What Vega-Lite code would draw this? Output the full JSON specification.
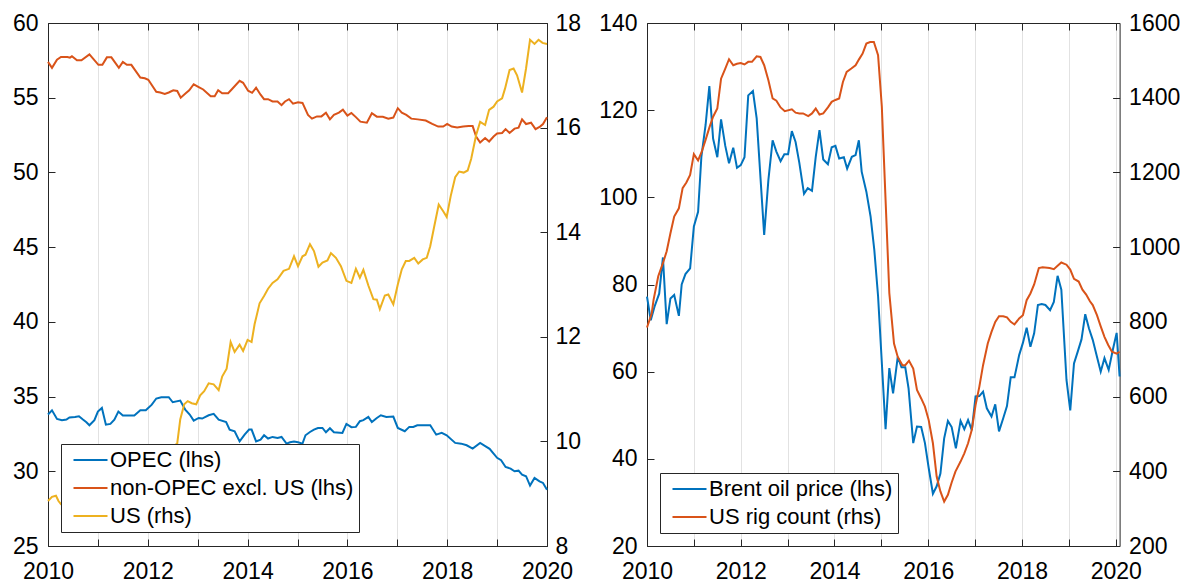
{
  "$schema": "https://vega.github.io/schema/vega-lite/v6.json",
  "padding": {"left": 8, "top": 12, "right": 0, "bottom": 0},
  "spacing": 0,
  "config": {
    "font": "Liberation Sans",
    "view": {"stroke": null},
    "axis": {
      "labelFont": "Liberation Sans",
      "labelFontSize": 23,
      "labelColor": "#000000",
      "domainColor": "#262626",
      "domainWidth": 1,
      "tickColor": "#262626",
      "tickSize": -7,
      "labelPadding": 17,
      "gridColor": "#e2e2e2",
      "gridWidth": 1,
      "title": null
    },
    "legend": {
      "labelFont": "Liberation Sans",
      "labelFontSize": 22,
      "labelColor": "#000000",
      "labelLimit": 400,
      "symbolType": "M-0.7,0H6.1",
      "symbolStrokeWidth": 2,
      "symbolSize": 100,
      "fillColor": "#ffffff",
      "strokeColor": "#262626",
      "padding": 5,
      "rowPadding": 6,
      "labelOffset": 22,
      "title": null
    }
  },
  "datasets": {
    "left": [
      {"s":"non-OPEC excl. US (lhs)","t":2010.00,"v":57.4},
      {"s":"non-OPEC excl. US (lhs)","t":2010.08,"v":57.0},
      {"s":"non-OPEC excl. US (lhs)","t":2010.18,"v":57.55},
      {"s":"non-OPEC excl. US (lhs)","t":2010.26,"v":57.73},
      {"s":"non-OPEC excl. US (lhs)","t":2010.39,"v":57.73},
      {"s":"non-OPEC excl. US (lhs)","t":2010.44,"v":57.68},
      {"s":"non-OPEC excl. US (lhs)","t":2010.48,"v":57.78},
      {"s":"non-OPEC excl. US (lhs)","t":2010.58,"v":57.5},
      {"s":"non-OPEC excl. US (lhs)","t":2010.67,"v":57.5},
      {"s":"non-OPEC excl. US (lhs)","t":2010.83,"v":57.9},
      {"s":"non-OPEC excl. US (lhs)","t":2011.01,"v":57.2},
      {"s":"non-OPEC excl. US (lhs)","t":2011.09,"v":57.2},
      {"s":"non-OPEC excl. US (lhs)","t":2011.18,"v":57.7},
      {"s":"non-OPEC excl. US (lhs)","t":2011.27,"v":57.7},
      {"s":"non-OPEC excl. US (lhs)","t":2011.42,"v":57.0},
      {"s":"non-OPEC excl. US (lhs)","t":2011.50,"v":57.4},
      {"s":"non-OPEC excl. US (lhs)","t":2011.58,"v":57.2},
      {"s":"non-OPEC excl. US (lhs)","t":2011.67,"v":57.2},
      {"s":"non-OPEC excl. US (lhs)","t":2011.85,"v":56.35},
      {"s":"non-OPEC excl. US (lhs)","t":2011.94,"v":56.3},
      {"s":"non-OPEC excl. US (lhs)","t":2012.01,"v":56.2},
      {"s":"non-OPEC excl. US (lhs)","t":2012.17,"v":55.4},
      {"s":"non-OPEC excl. US (lhs)","t":2012.25,"v":55.35},
      {"s":"non-OPEC excl. US (lhs)","t":2012.34,"v":55.25},
      {"s":"non-OPEC excl. US (lhs)","t":2012.42,"v":55.35},
      {"s":"non-OPEC excl. US (lhs)","t":2012.51,"v":55.5},
      {"s":"non-OPEC excl. US (lhs)","t":2012.59,"v":55.45},
      {"s":"non-OPEC excl. US (lhs)","t":2012.66,"v":55.0},
      {"s":"non-OPEC excl. US (lhs)","t":2012.76,"v":55.3},
      {"s":"non-OPEC excl. US (lhs)","t":2012.83,"v":55.5},
      {"s":"non-OPEC excl. US (lhs)","t":2012.92,"v":55.9},
      {"s":"non-OPEC excl. US (lhs)","t":2013.03,"v":55.7},
      {"s":"non-OPEC excl. US (lhs)","t":2013.11,"v":55.55},
      {"s":"non-OPEC excl. US (lhs)","t":2013.26,"v":55.1},
      {"s":"non-OPEC excl. US (lhs)","t":2013.34,"v":55.1},
      {"s":"non-OPEC excl. US (lhs)","t":2013.41,"v":55.5},
      {"s":"non-OPEC excl. US (lhs)","t":2013.49,"v":55.3},
      {"s":"non-OPEC excl. US (lhs)","t":2013.61,"v":55.3},
      {"s":"non-OPEC excl. US (lhs)","t":2013.68,"v":55.55},
      {"s":"non-OPEC excl. US (lhs)","t":2013.84,"v":56.13},
      {"s":"non-OPEC excl. US (lhs)","t":2013.91,"v":56.0},
      {"s":"non-OPEC excl. US (lhs)","t":2014.01,"v":55.47},
      {"s":"non-OPEC excl. US (lhs)","t":2014.09,"v":55.33},
      {"s":"non-OPEC excl. US (lhs)","t":2014.17,"v":55.67},
      {"s":"non-OPEC excl. US (lhs)","t":2014.26,"v":55.2},
      {"s":"non-OPEC excl. US (lhs)","t":2014.33,"v":54.9},
      {"s":"non-OPEC excl. US (lhs)","t":2014.41,"v":54.9},
      {"s":"non-OPEC excl. US (lhs)","t":2014.50,"v":54.75},
      {"s":"non-OPEC excl. US (lhs)","t":2014.60,"v":54.75},
      {"s":"non-OPEC excl. US (lhs)","t":2014.68,"v":54.5},
      {"s":"non-OPEC excl. US (lhs)","t":2014.75,"v":54.75},
      {"s":"non-OPEC excl. US (lhs)","t":2014.83,"v":54.9},
      {"s":"non-OPEC excl. US (lhs)","t":2014.91,"v":54.6},
      {"s":"non-OPEC excl. US (lhs)","t":2015.01,"v":54.7},
      {"s":"non-OPEC excl. US (lhs)","t":2015.10,"v":54.65},
      {"s":"non-OPEC excl. US (lhs)","t":2015.21,"v":53.85},
      {"s":"non-OPEC excl. US (lhs)","t":2015.29,"v":53.6},
      {"s":"non-OPEC excl. US (lhs)","t":2015.39,"v":53.75},
      {"s":"non-OPEC excl. US (lhs)","t":2015.48,"v":53.75},
      {"s":"non-OPEC excl. US (lhs)","t":2015.57,"v":54.0},
      {"s":"non-OPEC excl. US (lhs)","t":2015.65,"v":53.55},
      {"s":"non-OPEC excl. US (lhs)","t":2015.73,"v":53.85},
      {"s":"non-OPEC excl. US (lhs)","t":2015.83,"v":54.0},
      {"s":"non-OPEC excl. US (lhs)","t":2015.91,"v":54.2},
      {"s":"non-OPEC excl. US (lhs)","t":2016.00,"v":53.8},
      {"s":"non-OPEC excl. US (lhs)","t":2016.08,"v":53.98},
      {"s":"non-OPEC excl. US (lhs)","t":2016.17,"v":53.7},
      {"s":"non-OPEC excl. US (lhs)","t":2016.26,"v":53.4},
      {"s":"non-OPEC excl. US (lhs)","t":2016.39,"v":53.33},
      {"s":"non-OPEC excl. US (lhs)","t":2016.49,"v":53.96},
      {"s":"non-OPEC excl. US (lhs)","t":2016.59,"v":53.73},
      {"s":"non-OPEC excl. US (lhs)","t":2016.71,"v":53.73},
      {"s":"non-OPEC excl. US (lhs)","t":2016.82,"v":53.6},
      {"s":"non-OPEC excl. US (lhs)","t":2016.92,"v":53.67},
      {"s":"non-OPEC excl. US (lhs)","t":2017.01,"v":54.3},
      {"s":"non-OPEC excl. US (lhs)","t":2017.09,"v":54.0},
      {"s":"non-OPEC excl. US (lhs)","t":2017.18,"v":53.85},
      {"s":"non-OPEC excl. US (lhs)","t":2017.28,"v":53.6},
      {"s":"non-OPEC excl. US (lhs)","t":2017.41,"v":53.55},
      {"s":"non-OPEC excl. US (lhs)","t":2017.57,"v":53.47},
      {"s":"non-OPEC excl. US (lhs)","t":2017.70,"v":53.25},
      {"s":"non-OPEC excl. US (lhs)","t":2017.82,"v":53.07},
      {"s":"non-OPEC excl. US (lhs)","t":2017.92,"v":53.07},
      {"s":"non-OPEC excl. US (lhs)","t":2018.00,"v":53.25},
      {"s":"non-OPEC excl. US (lhs)","t":2018.09,"v":53.07},
      {"s":"non-OPEC excl. US (lhs)","t":2018.20,"v":53.0},
      {"s":"non-OPEC excl. US (lhs)","t":2018.32,"v":53.07},
      {"s":"non-OPEC excl. US (lhs)","t":2018.43,"v":53.1},
      {"s":"non-OPEC excl. US (lhs)","t":2018.51,"v":53.1},
      {"s":"non-OPEC excl. US (lhs)","t":2018.58,"v":52.4},
      {"s":"non-OPEC excl. US (lhs)","t":2018.66,"v":52.0},
      {"s":"non-OPEC excl. US (lhs)","t":2018.76,"v":52.3},
      {"s":"non-OPEC excl. US (lhs)","t":2018.84,"v":52.07},
      {"s":"non-OPEC excl. US (lhs)","t":2018.93,"v":52.4},
      {"s":"non-OPEC excl. US (lhs)","t":2019.00,"v":52.6},
      {"s":"non-OPEC excl. US (lhs)","t":2019.10,"v":52.64},
      {"s":"non-OPEC excl. US (lhs)","t":2019.17,"v":52.9},
      {"s":"non-OPEC excl. US (lhs)","t":2019.25,"v":52.64},
      {"s":"non-OPEC excl. US (lhs)","t":2019.35,"v":52.93},
      {"s":"non-OPEC excl. US (lhs)","t":2019.43,"v":53.0},
      {"s":"non-OPEC excl. US (lhs)","t":2019.50,"v":53.55},
      {"s":"non-OPEC excl. US (lhs)","t":2019.58,"v":53.24},
      {"s":"non-OPEC excl. US (lhs)","t":2019.68,"v":53.33},
      {"s":"non-OPEC excl. US (lhs)","t":2019.77,"v":52.9},
      {"s":"non-OPEC excl. US (lhs)","t":2019.86,"v":53.07},
      {"s":"non-OPEC excl. US (lhs)","t":2019.92,"v":53.24},
      {"s":"non-OPEC excl. US (lhs)","t":2020.00,"v":53.7},
      {"s":"OPEC (lhs)","t":2010.00,"v":33.8},
      {"s":"OPEC (lhs)","t":2010.08,"v":34.08},
      {"s":"OPEC (lhs)","t":2010.18,"v":33.5},
      {"s":"OPEC (lhs)","t":2010.28,"v":33.42},
      {"s":"OPEC (lhs)","t":2010.37,"v":33.46},
      {"s":"OPEC (lhs)","t":2010.43,"v":33.6},
      {"s":"OPEC (lhs)","t":2010.54,"v":33.64},
      {"s":"OPEC (lhs)","t":2010.62,"v":33.68},
      {"s":"OPEC (lhs)","t":2010.70,"v":33.46},
      {"s":"OPEC (lhs)","t":2010.77,"v":33.28},
      {"s":"OPEC (lhs)","t":2010.83,"v":33.08},
      {"s":"OPEC (lhs)","t":2010.93,"v":33.42},
      {"s":"OPEC (lhs)","t":2011.00,"v":34.0},
      {"s":"OPEC (lhs)","t":2011.08,"v":34.24},
      {"s":"OPEC (lhs)","t":2011.16,"v":33.12},
      {"s":"OPEC (lhs)","t":2011.25,"v":33.17},
      {"s":"OPEC (lhs)","t":2011.33,"v":33.46},
      {"s":"OPEC (lhs)","t":2011.41,"v":34.0},
      {"s":"OPEC (lhs)","t":2011.50,"v":33.73},
      {"s":"OPEC (lhs)","t":2011.73,"v":33.73},
      {"s":"OPEC (lhs)","t":2011.85,"v":34.08},
      {"s":"OPEC (lhs)","t":2011.96,"v":34.08},
      {"s":"OPEC (lhs)","t":2012.08,"v":34.46},
      {"s":"OPEC (lhs)","t":2012.17,"v":34.87},
      {"s":"OPEC (lhs)","t":2012.27,"v":34.96},
      {"s":"OPEC (lhs)","t":2012.42,"v":34.96},
      {"s":"OPEC (lhs)","t":2012.50,"v":34.62},
      {"s":"OPEC (lhs)","t":2012.65,"v":34.73},
      {"s":"OPEC (lhs)","t":2012.75,"v":34.13},
      {"s":"OPEC (lhs)","t":2012.84,"v":33.8},
      {"s":"OPEC (lhs)","t":2012.92,"v":33.39},
      {"s":"OPEC (lhs)","t":2013.02,"v":33.57},
      {"s":"OPEC (lhs)","t":2013.09,"v":33.53},
      {"s":"OPEC (lhs)","t":2013.22,"v":33.75},
      {"s":"OPEC (lhs)","t":2013.32,"v":33.84},
      {"s":"OPEC (lhs)","t":2013.42,"v":33.46},
      {"s":"OPEC (lhs)","t":2013.57,"v":33.3},
      {"s":"OPEC (lhs)","t":2013.64,"v":32.79},
      {"s":"OPEC (lhs)","t":2013.74,"v":32.68},
      {"s":"OPEC (lhs)","t":2013.84,"v":32.0},
      {"s":"OPEC (lhs)","t":2013.94,"v":32.45},
      {"s":"OPEC (lhs)","t":2014.03,"v":32.79},
      {"s":"OPEC (lhs)","t":2014.08,"v":32.79},
      {"s":"OPEC (lhs)","t":2014.17,"v":32.0},
      {"s":"OPEC (lhs)","t":2014.26,"v":32.12},
      {"s":"OPEC (lhs)","t":2014.33,"v":32.41},
      {"s":"OPEC (lhs)","t":2014.41,"v":32.19},
      {"s":"OPEC (lhs)","t":2014.50,"v":32.3},
      {"s":"OPEC (lhs)","t":2014.60,"v":32.23},
      {"s":"OPEC (lhs)","t":2014.68,"v":32.3},
      {"s":"OPEC (lhs)","t":2014.78,"v":31.85},
      {"s":"OPEC (lhs)","t":2014.85,"v":31.94},
      {"s":"OPEC (lhs)","t":2014.93,"v":32.0},
      {"s":"OPEC (lhs)","t":2015.01,"v":31.94},
      {"s":"OPEC (lhs)","t":2015.10,"v":31.85},
      {"s":"OPEC (lhs)","t":2015.16,"v":32.41},
      {"s":"OPEC (lhs)","t":2015.25,"v":32.63},
      {"s":"OPEC (lhs)","t":2015.33,"v":32.79},
      {"s":"OPEC (lhs)","t":2015.41,"v":32.9},
      {"s":"OPEC (lhs)","t":2015.50,"v":32.9},
      {"s":"OPEC (lhs)","t":2015.57,"v":32.61},
      {"s":"OPEC (lhs)","t":2015.65,"v":32.88},
      {"s":"OPEC (lhs)","t":2015.73,"v":32.61},
      {"s":"OPEC (lhs)","t":2015.90,"v":32.57},
      {"s":"OPEC (lhs)","t":2015.98,"v":33.17},
      {"s":"OPEC (lhs)","t":2016.08,"v":32.95},
      {"s":"OPEC (lhs)","t":2016.17,"v":32.97},
      {"s":"OPEC (lhs)","t":2016.25,"v":33.35},
      {"s":"OPEC (lhs)","t":2016.32,"v":33.42},
      {"s":"OPEC (lhs)","t":2016.42,"v":33.64},
      {"s":"OPEC (lhs)","t":2016.49,"v":33.3},
      {"s":"OPEC (lhs)","t":2016.59,"v":33.57},
      {"s":"OPEC (lhs)","t":2016.67,"v":33.75},
      {"s":"OPEC (lhs)","t":2016.78,"v":33.64},
      {"s":"OPEC (lhs)","t":2016.92,"v":33.66},
      {"s":"OPEC (lhs)","t":2017.01,"v":32.9},
      {"s":"OPEC (lhs)","t":2017.15,"v":32.68},
      {"s":"OPEC (lhs)","t":2017.24,"v":32.97},
      {"s":"OPEC (lhs)","t":2017.32,"v":32.97},
      {"s":"OPEC (lhs)","t":2017.40,"v":33.08},
      {"s":"OPEC (lhs)","t":2017.66,"v":33.08},
      {"s":"OPEC (lhs)","t":2017.78,"v":32.45},
      {"s":"OPEC (lhs)","t":2017.89,"v":32.57},
      {"s":"OPEC (lhs)","t":2017.99,"v":32.41},
      {"s":"OPEC (lhs)","t":2018.16,"v":31.9},
      {"s":"OPEC (lhs)","t":2018.28,"v":31.85},
      {"s":"OPEC (lhs)","t":2018.39,"v":31.74},
      {"s":"OPEC (lhs)","t":2018.51,"v":31.52},
      {"s":"OPEC (lhs)","t":2018.66,"v":31.9},
      {"s":"OPEC (lhs)","t":2018.77,"v":31.67},
      {"s":"OPEC (lhs)","t":2018.85,"v":31.5},
      {"s":"OPEC (lhs)","t":2018.93,"v":31.18},
      {"s":"OPEC (lhs)","t":2019.00,"v":30.9},
      {"s":"OPEC (lhs)","t":2019.08,"v":30.74},
      {"s":"OPEC (lhs)","t":2019.17,"v":30.29},
      {"s":"OPEC (lhs)","t":2019.27,"v":30.18},
      {"s":"OPEC (lhs)","t":2019.35,"v":30.0},
      {"s":"OPEC (lhs)","t":2019.43,"v":30.04},
      {"s":"OPEC (lhs)","t":2019.50,"v":29.78},
      {"s":"OPEC (lhs)","t":2019.58,"v":29.67},
      {"s":"OPEC (lhs)","t":2019.66,"v":29.04},
      {"s":"OPEC (lhs)","t":2019.75,"v":29.55},
      {"s":"OPEC (lhs)","t":2019.85,"v":29.33},
      {"s":"OPEC (lhs)","t":2019.92,"v":29.22},
      {"s":"OPEC (lhs)","t":2020.00,"v":28.77},
      {"s":"US (rhs)","t":2010.00,"v":8.86},
      {"s":"US (rhs)","t":2010.08,"v":8.94},
      {"s":"US (rhs)","t":2010.16,"v":8.96},
      {"s":"US (rhs)","t":2010.21,"v":8.86},
      {"s":"US (rhs)","t":2010.26,"v":8.8},
      {"s":"US (rhs)","t":2010.50,"v":8.85},
      {"s":"US (rhs)","t":2010.83,"v":8.95},
      {"s":"US (rhs)","t":2011.17,"v":9.1},
      {"s":"US (rhs)","t":2011.50,"v":9.25},
      {"s":"US (rhs)","t":2011.83,"v":9.45},
      {"s":"US (rhs)","t":2012.17,"v":9.7},
      {"s":"US (rhs)","t":2012.42,"v":9.85},
      {"s":"US (rhs)","t":2012.59,"v":9.96},
      {"s":"US (rhs)","t":2012.65,"v":10.42},
      {"s":"US (rhs)","t":2012.73,"v":10.71},
      {"s":"US (rhs)","t":2012.80,"v":10.77},
      {"s":"US (rhs)","t":2012.88,"v":10.73},
      {"s":"US (rhs)","t":2012.97,"v":10.71},
      {"s":"US (rhs)","t":2013.05,"v":10.88},
      {"s":"US (rhs)","t":2013.13,"v":10.96},
      {"s":"US (rhs)","t":2013.22,"v":11.11},
      {"s":"US (rhs)","t":2013.32,"v":11.09},
      {"s":"US (rhs)","t":2013.42,"v":10.98},
      {"s":"US (rhs)","t":2013.49,"v":11.24},
      {"s":"US (rhs)","t":2013.58,"v":11.39},
      {"s":"US (rhs)","t":2013.66,"v":11.9},
      {"s":"US (rhs)","t":2013.74,"v":11.71},
      {"s":"US (rhs)","t":2013.84,"v":11.85},
      {"s":"US (rhs)","t":2013.91,"v":11.73},
      {"s":"US (rhs)","t":2014.00,"v":11.94},
      {"s":"US (rhs)","t":2014.08,"v":11.9},
      {"s":"US (rhs)","t":2014.14,"v":12.24},
      {"s":"US (rhs)","t":2014.24,"v":12.64},
      {"s":"US (rhs)","t":2014.33,"v":12.78},
      {"s":"US (rhs)","t":2014.41,"v":12.92},
      {"s":"US (rhs)","t":2014.50,"v":13.03},
      {"s":"US (rhs)","t":2014.60,"v":13.1},
      {"s":"US (rhs)","t":2014.72,"v":13.26},
      {"s":"US (rhs)","t":2014.83,"v":13.3},
      {"s":"US (rhs)","t":2014.93,"v":13.54},
      {"s":"US (rhs)","t":2015.01,"v":13.35},
      {"s":"US (rhs)","t":2015.10,"v":13.54},
      {"s":"US (rhs)","t":2015.16,"v":13.57},
      {"s":"US (rhs)","t":2015.25,"v":13.77},
      {"s":"US (rhs)","t":2015.33,"v":13.64},
      {"s":"US (rhs)","t":2015.42,"v":13.34},
      {"s":"US (rhs)","t":2015.50,"v":13.42},
      {"s":"US (rhs)","t":2015.60,"v":13.46},
      {"s":"US (rhs)","t":2015.67,"v":13.6},
      {"s":"US (rhs)","t":2015.77,"v":13.51},
      {"s":"US (rhs)","t":2015.87,"v":13.35},
      {"s":"US (rhs)","t":2015.98,"v":13.07},
      {"s":"US (rhs)","t":2016.08,"v":13.03},
      {"s":"US (rhs)","t":2016.17,"v":13.3},
      {"s":"US (rhs)","t":2016.25,"v":13.13},
      {"s":"US (rhs)","t":2016.32,"v":13.28},
      {"s":"US (rhs)","t":2016.42,"v":12.98},
      {"s":"US (rhs)","t":2016.52,"v":12.72},
      {"s":"US (rhs)","t":2016.59,"v":12.71},
      {"s":"US (rhs)","t":2016.65,"v":12.53},
      {"s":"US (rhs)","t":2016.75,"v":12.79},
      {"s":"US (rhs)","t":2016.82,"v":12.81},
      {"s":"US (rhs)","t":2016.92,"v":12.62},
      {"s":"US (rhs)","t":2017.01,"v":13.0},
      {"s":"US (rhs)","t":2017.09,"v":13.29},
      {"s":"US (rhs)","t":2017.17,"v":13.45},
      {"s":"US (rhs)","t":2017.24,"v":13.45},
      {"s":"US (rhs)","t":2017.34,"v":13.51},
      {"s":"US (rhs)","t":2017.42,"v":13.4},
      {"s":"US (rhs)","t":2017.51,"v":13.48},
      {"s":"US (rhs)","t":2017.59,"v":13.51},
      {"s":"US (rhs)","t":2017.66,"v":13.73},
      {"s":"US (rhs)","t":2017.74,"v":14.11},
      {"s":"US (rhs)","t":2017.83,"v":14.53},
      {"s":"US (rhs)","t":2017.92,"v":14.4},
      {"s":"US (rhs)","t":2017.99,"v":14.29},
      {"s":"US (rhs)","t":2018.07,"v":14.69},
      {"s":"US (rhs)","t":2018.16,"v":15.05},
      {"s":"US (rhs)","t":2018.24,"v":15.16},
      {"s":"US (rhs)","t":2018.33,"v":15.14},
      {"s":"US (rhs)","t":2018.41,"v":15.18},
      {"s":"US (rhs)","t":2018.48,"v":15.4},
      {"s":"US (rhs)","t":2018.58,"v":15.86},
      {"s":"US (rhs)","t":2018.66,"v":16.11},
      {"s":"US (rhs)","t":2018.76,"v":16.05},
      {"s":"US (rhs)","t":2018.84,"v":16.34},
      {"s":"US (rhs)","t":2018.93,"v":16.4},
      {"s":"US (rhs)","t":2019.00,"v":16.5},
      {"s":"US (rhs)","t":2019.10,"v":16.56},
      {"s":"US (rhs)","t":2019.16,"v":16.75},
      {"s":"US (rhs)","t":2019.25,"v":17.1},
      {"s":"US (rhs)","t":2019.33,"v":17.13},
      {"s":"US (rhs)","t":2019.40,"v":17.0},
      {"s":"US (rhs)","t":2019.50,"v":16.67},
      {"s":"US (rhs)","t":2019.58,"v":17.13},
      {"s":"US (rhs)","t":2019.66,"v":17.68},
      {"s":"US (rhs)","t":2019.75,"v":17.6},
      {"s":"US (rhs)","t":2019.83,"v":17.68},
      {"s":"US (rhs)","t":2019.91,"v":17.62},
      {"s":"US (rhs)","t":2020.00,"v":17.6}
    ],
    "right": [
      {"s":"Brent oil price (lhs)","t":2010.00,"v":77.2},
      {"s":"Brent oil price (lhs)","t":2010.08,"v":71.8},
      {"s":"Brent oil price (lhs)","t":2010.16,"v":74.9},
      {"s":"Brent oil price (lhs)","t":2010.26,"v":77.9},
      {"s":"Brent oil price (lhs)","t":2010.34,"v":86.2},
      {"s":"Brent oil price (lhs)","t":2010.42,"v":70.9},
      {"s":"Brent oil price (lhs)","t":2010.50,"v":76.8},
      {"s":"Brent oil price (lhs)","t":2010.58,"v":77.6},
      {"s":"Brent oil price (lhs)","t":2010.68,"v":72.8},
      {"s":"Brent oil price (lhs)","t":2010.74,"v":80.0},
      {"s":"Brent oil price (lhs)","t":2010.82,"v":82.4},
      {"s":"Brent oil price (lhs)","t":2010.92,"v":83.7},
      {"s":"Brent oil price (lhs)","t":2011.00,"v":93.3},
      {"s":"Brent oil price (lhs)","t":2011.09,"v":96.7},
      {"s":"Brent oil price (lhs)","t":2011.16,"v":109.3},
      {"s":"Brent oil price (lhs)","t":2011.25,"v":116.6},
      {"s":"Brent oil price (lhs)","t":2011.33,"v":125.5},
      {"s":"Brent oil price (lhs)","t":2011.41,"v":113.5},
      {"s":"Brent oil price (lhs)","t":2011.50,"v":109.2},
      {"s":"Brent oil price (lhs)","t":2011.58,"v":117.9},
      {"s":"Brent oil price (lhs)","t":2011.67,"v":111.8},
      {"s":"Brent oil price (lhs)","t":2011.75,"v":107.8},
      {"s":"Brent oil price (lhs)","t":2011.84,"v":111.4},
      {"s":"Brent oil price (lhs)","t":2011.92,"v":106.8},
      {"s":"Brent oil price (lhs)","t":2012.00,"v":107.4},
      {"s":"Brent oil price (lhs)","t":2012.08,"v":109.2},
      {"s":"Brent oil price (lhs)","t":2012.16,"v":123.4},
      {"s":"Brent oil price (lhs)","t":2012.26,"v":124.4},
      {"s":"Brent oil price (lhs)","t":2012.34,"v":118.1},
      {"s":"Brent oil price (lhs)","t":2012.42,"v":104.7},
      {"s":"Brent oil price (lhs)","t":2012.50,"v":91.4},
      {"s":"Brent oil price (lhs)","t":2012.59,"v":104.0},
      {"s":"Brent oil price (lhs)","t":2012.68,"v":113.1},
      {"s":"Brent oil price (lhs)","t":2012.76,"v":110.5},
      {"s":"Brent oil price (lhs)","t":2012.85,"v":108.3},
      {"s":"Brent oil price (lhs)","t":2012.93,"v":109.9},
      {"s":"Brent oil price (lhs)","t":2013.01,"v":109.9},
      {"s":"Brent oil price (lhs)","t":2013.09,"v":115.2},
      {"s":"Brent oil price (lhs)","t":2013.17,"v":112.7},
      {"s":"Brent oil price (lhs)","t":2013.25,"v":107.9},
      {"s":"Brent oil price (lhs)","t":2013.35,"v":100.8},
      {"s":"Brent oil price (lhs)","t":2013.43,"v":102.1},
      {"s":"Brent oil price (lhs)","t":2013.52,"v":101.5},
      {"s":"Brent oil price (lhs)","t":2013.60,"v":109.3},
      {"s":"Brent oil price (lhs)","t":2013.68,"v":115.4},
      {"s":"Brent oil price (lhs)","t":2013.76,"v":108.7},
      {"s":"Brent oil price (lhs)","t":2013.86,"v":107.6},
      {"s":"Brent oil price (lhs)","t":2013.94,"v":111.5},
      {"s":"Brent oil price (lhs)","t":2014.02,"v":111.8},
      {"s":"Brent oil price (lhs)","t":2014.10,"v":108.9},
      {"s":"Brent oil price (lhs)","t":2014.20,"v":109.2},
      {"s":"Brent oil price (lhs)","t":2014.27,"v":106.6},
      {"s":"Brent oil price (lhs)","t":2014.37,"v":109.3},
      {"s":"Brent oil price (lhs)","t":2014.45,"v":109.7},
      {"s":"Brent oil price (lhs)","t":2014.52,"v":113.1},
      {"s":"Brent oil price (lhs)","t":2014.58,"v":105.9},
      {"s":"Brent oil price (lhs)","t":2014.68,"v":101.3},
      {"s":"Brent oil price (lhs)","t":2014.77,"v":95.6},
      {"s":"Brent oil price (lhs)","t":2014.85,"v":87.9},
      {"s":"Brent oil price (lhs)","t":2014.93,"v":77.3},
      {"s":"Brent oil price (lhs)","t":2015.09,"v":46.8},
      {"s":"Brent oil price (lhs)","t":2015.17,"v":60.8},
      {"s":"Brent oil price (lhs)","t":2015.25,"v":55.0},
      {"s":"Brent oil price (lhs)","t":2015.35,"v":63.4},
      {"s":"Brent oil price (lhs)","t":2015.43,"v":61.0},
      {"s":"Brent oil price (lhs)","t":2015.51,"v":61.0},
      {"s":"Brent oil price (lhs)","t":2015.58,"v":56.2},
      {"s":"Brent oil price (lhs)","t":2015.68,"v":43.6},
      {"s":"Brent oil price (lhs)","t":2015.76,"v":47.4},
      {"s":"Brent oil price (lhs)","t":2015.85,"v":47.3},
      {"s":"Brent oil price (lhs)","t":2015.93,"v":43.6},
      {"s":"Brent oil price (lhs)","t":2016.01,"v":37.9},
      {"s":"Brent oil price (lhs)","t":2016.10,"v":32.0},
      {"s":"Brent oil price (lhs)","t":2016.18,"v":33.7},
      {"s":"Brent oil price (lhs)","t":2016.26,"v":36.6},
      {"s":"Brent oil price (lhs)","t":2016.34,"v":44.7},
      {"s":"Brent oil price (lhs)","t":2016.42,"v":48.7},
      {"s":"Brent oil price (lhs)","t":2016.50,"v":47.3},
      {"s":"Brent oil price (lhs)","t":2016.59,"v":42.4},
      {"s":"Brent oil price (lhs)","t":2016.69,"v":48.7},
      {"s":"Brent oil price (lhs)","t":2016.77,"v":46.8},
      {"s":"Brent oil price (lhs)","t":2016.85,"v":48.9},
      {"s":"Brent oil price (lhs)","t":2016.93,"v":46.6},
      {"s":"Brent oil price (lhs)","t":2017.01,"v":54.3},
      {"s":"Brent oil price (lhs)","t":2017.09,"v":54.4},
      {"s":"Brent oil price (lhs)","t":2017.17,"v":55.4},
      {"s":"Brent oil price (lhs)","t":2017.25,"v":51.6},
      {"s":"Brent oil price (lhs)","t":2017.35,"v":49.7},
      {"s":"Brent oil price (lhs)","t":2017.43,"v":52.5},
      {"s":"Brent oil price (lhs)","t":2017.51,"v":46.3},
      {"s":"Brent oil price (lhs)","t":2017.60,"v":49.3},
      {"s":"Brent oil price (lhs)","t":2017.68,"v":52.1},
      {"s":"Brent oil price (lhs)","t":2017.76,"v":58.7},
      {"s":"Brent oil price (lhs)","t":2017.84,"v":58.7},
      {"s":"Brent oil price (lhs)","t":2017.94,"v":63.8},
      {"s":"Brent oil price (lhs)","t":2018.02,"v":66.6},
      {"s":"Brent oil price (lhs)","t":2018.10,"v":70.1},
      {"s":"Brent oil price (lhs)","t":2018.18,"v":65.7},
      {"s":"Brent oil price (lhs)","t":2018.26,"v":68.8},
      {"s":"Brent oil price (lhs)","t":2018.34,"v":75.3},
      {"s":"Brent oil price (lhs)","t":2018.42,"v":75.5},
      {"s":"Brent oil price (lhs)","t":2018.50,"v":75.3},
      {"s":"Brent oil price (lhs)","t":2018.60,"v":74.1},
      {"s":"Brent oil price (lhs)","t":2018.68,"v":76.0},
      {"s":"Brent oil price (lhs)","t":2018.76,"v":82.0},
      {"s":"Brent oil price (lhs)","t":2018.84,"v":78.8},
      {"s":"Brent oil price (lhs)","t":2018.95,"v":58.1},
      {"s":"Brent oil price (lhs)","t":2019.03,"v":51.1},
      {"s":"Brent oil price (lhs)","t":2019.11,"v":61.9},
      {"s":"Brent oil price (lhs)","t":2019.19,"v":64.6},
      {"s":"Brent oil price (lhs)","t":2019.27,"v":67.4},
      {"s":"Brent oil price (lhs)","t":2019.35,"v":73.2},
      {"s":"Brent oil price (lhs)","t":2019.43,"v":69.9},
      {"s":"Brent oil price (lhs)","t":2019.51,"v":67.3},
      {"s":"Brent oil price (lhs)","t":2019.60,"v":63.4},
      {"s":"Brent oil price (lhs)","t":2019.68,"v":60.0},
      {"s":"Brent oil price (lhs)","t":2019.76,"v":63.1},
      {"s":"Brent oil price (lhs)","t":2019.85,"v":60.4},
      {"s":"Brent oil price (lhs)","t":2019.94,"v":65.1},
      {"s":"Brent oil price (lhs)","t":2020.02,"v":68.9},
      {"s":"Brent oil price (lhs)","t":2020.083,"v":58.9},
      {"s":"US rig count (rhs)","t":2010.00,"v":785},
      {"s":"US rig count (rhs)","t":2010.10,"v":822},
      {"s":"US rig count (rhs)","t":2010.14,"v":859},
      {"s":"US rig count (rhs)","t":2010.24,"v":922},
      {"s":"US rig count (rhs)","t":2010.34,"v":957},
      {"s":"US rig count (rhs)","t":2010.42,"v":989},
      {"s":"US rig count (rhs)","t":2010.50,"v":1037},
      {"s":"US rig count (rhs)","t":2010.58,"v":1082},
      {"s":"US rig count (rhs)","t":2010.68,"v":1104},
      {"s":"US rig count (rhs)","t":2010.76,"v":1158},
      {"s":"US rig count (rhs)","t":2010.84,"v":1173},
      {"s":"US rig count (rhs)","t":2010.92,"v":1193},
      {"s":"US rig count (rhs)","t":2011.00,"v":1249},
      {"s":"US rig count (rhs)","t":2011.09,"v":1232},
      {"s":"US rig count (rhs)","t":2011.17,"v":1256},
      {"s":"US rig count (rhs)","t":2011.25,"v":1287},
      {"s":"US rig count (rhs)","t":2011.33,"v":1320},
      {"s":"US rig count (rhs)","t":2011.41,"v":1349},
      {"s":"US rig count (rhs)","t":2011.50,"v":1371},
      {"s":"US rig count (rhs)","t":2011.58,"v":1451},
      {"s":"US rig count (rhs)","t":2011.67,"v":1478},
      {"s":"US rig count (rhs)","t":2011.75,"v":1503},
      {"s":"US rig count (rhs)","t":2011.84,"v":1487},
      {"s":"US rig count (rhs)","t":2011.92,"v":1491},
      {"s":"US rig count (rhs)","t":2012.00,"v":1493},
      {"s":"US rig count (rhs)","t":2012.08,"v":1489},
      {"s":"US rig count (rhs)","t":2012.16,"v":1496},
      {"s":"US rig count (rhs)","t":2012.24,"v":1496},
      {"s":"US rig count (rhs)","t":2012.34,"v":1511},
      {"s":"US rig count (rhs)","t":2012.42,"v":1509},
      {"s":"US rig count (rhs)","t":2012.50,"v":1487},
      {"s":"US rig count (rhs)","t":2012.59,"v":1447},
      {"s":"US rig count (rhs)","t":2012.68,"v":1398},
      {"s":"US rig count (rhs)","t":2012.76,"v":1392},
      {"s":"US rig count (rhs)","t":2012.85,"v":1374},
      {"s":"US rig count (rhs)","t":2012.94,"v":1364},
      {"s":"US rig count (rhs)","t":2013.09,"v":1369},
      {"s":"US rig count (rhs)","t":2013.17,"v":1360},
      {"s":"US rig count (rhs)","t":2013.25,"v":1358},
      {"s":"US rig count (rhs)","t":2013.33,"v":1358},
      {"s":"US rig count (rhs)","t":2013.44,"v":1351},
      {"s":"US rig count (rhs)","t":2013.52,"v":1358},
      {"s":"US rig count (rhs)","t":2013.60,"v":1371},
      {"s":"US rig count (rhs)","t":2013.68,"v":1355},
      {"s":"US rig count (rhs)","t":2013.76,"v":1358},
      {"s":"US rig count (rhs)","t":2013.86,"v":1374},
      {"s":"US rig count (rhs)","t":2013.94,"v":1389},
      {"s":"US rig count (rhs)","t":2014.02,"v":1394},
      {"s":"US rig count (rhs)","t":2014.10,"v":1398},
      {"s":"US rig count (rhs)","t":2014.18,"v":1442},
      {"s":"US rig count (rhs)","t":2014.26,"v":1469},
      {"s":"US rig count (rhs)","t":2014.36,"v":1478},
      {"s":"US rig count (rhs)","t":2014.45,"v":1487},
      {"s":"US rig count (rhs)","t":2014.52,"v":1502},
      {"s":"US rig count (rhs)","t":2014.60,"v":1518},
      {"s":"US rig count (rhs)","t":2014.68,"v":1545},
      {"s":"US rig count (rhs)","t":2014.76,"v":1549},
      {"s":"US rig count (rhs)","t":2014.84,"v":1549},
      {"s":"US rig count (rhs)","t":2014.93,"v":1514},
      {"s":"US rig count (rhs)","t":2015.01,"v":1376},
      {"s":"US rig count (rhs)","t":2015.09,"v":1126},
      {"s":"US rig count (rhs)","t":2015.17,"v":877},
      {"s":"US rig count (rhs)","t":2015.23,"v":796},
      {"s":"US rig count (rhs)","t":2015.27,"v":742},
      {"s":"US rig count (rhs)","t":2015.35,"v":706},
      {"s":"US rig count (rhs)","t":2015.45,"v":684},
      {"s":"US rig count (rhs)","t":2015.51,"v":684},
      {"s":"US rig count (rhs)","t":2015.59,"v":696},
      {"s":"US rig count (rhs)","t":2015.68,"v":675},
      {"s":"US rig count (rhs)","t":2015.76,"v":618},
      {"s":"US rig count (rhs)","t":2015.85,"v":595},
      {"s":"US rig count (rhs)","t":2015.93,"v":573},
      {"s":"US rig count (rhs)","t":2016.01,"v":537},
      {"s":"US rig count (rhs)","t":2016.10,"v":475},
      {"s":"US rig count (rhs)","t":2016.18,"v":386},
      {"s":"US rig count (rhs)","t":2016.26,"v":346},
      {"s":"US rig count (rhs)","t":2016.34,"v":319},
      {"s":"US rig count (rhs)","t":2016.42,"v":337},
      {"s":"US rig count (rhs)","t":2016.50,"v":370},
      {"s":"US rig count (rhs)","t":2016.58,"v":399},
      {"s":"US rig count (rhs)","t":2016.69,"v":426},
      {"s":"US rig count (rhs)","t":2016.77,"v":448},
      {"s":"US rig count (rhs)","t":2016.85,"v":475},
      {"s":"US rig count (rhs)","t":2016.93,"v":511},
      {"s":"US rig count (rhs)","t":2017.01,"v":577},
      {"s":"US rig count (rhs)","t":2017.09,"v":626},
      {"s":"US rig count (rhs)","t":2017.17,"v":684},
      {"s":"US rig count (rhs)","t":2017.27,"v":742},
      {"s":"US rig count (rhs)","t":2017.35,"v":773},
      {"s":"US rig count (rhs)","t":2017.43,"v":800},
      {"s":"US rig count (rhs)","t":2017.51,"v":815},
      {"s":"US rig count (rhs)","t":2017.60,"v":815},
      {"s":"US rig count (rhs)","t":2017.68,"v":812},
      {"s":"US rig count (rhs)","t":2017.76,"v":800},
      {"s":"US rig count (rhs)","t":2017.84,"v":793},
      {"s":"US rig count (rhs)","t":2017.94,"v":809},
      {"s":"US rig count (rhs)","t":2018.02,"v":818},
      {"s":"US rig count (rhs)","t":2018.10,"v":858},
      {"s":"US rig count (rhs)","t":2018.18,"v":876},
      {"s":"US rig count (rhs)","t":2018.26,"v":900},
      {"s":"US rig count (rhs)","t":2018.36,"v":944},
      {"s":"US rig count (rhs)","t":2018.44,"v":946},
      {"s":"US rig count (rhs)","t":2018.59,"v":944},
      {"s":"US rig count (rhs)","t":2018.68,"v":941},
      {"s":"US rig count (rhs)","t":2018.76,"v":950},
      {"s":"US rig count (rhs)","t":2018.84,"v":959},
      {"s":"US rig count (rhs)","t":2018.95,"v":953},
      {"s":"US rig count (rhs)","t":2019.03,"v":940},
      {"s":"US rig count (rhs)","t":2019.11,"v":915},
      {"s":"US rig count (rhs)","t":2019.21,"v":908},
      {"s":"US rig count (rhs)","t":2019.29,"v":886},
      {"s":"US rig count (rhs)","t":2019.37,"v":873},
      {"s":"US rig count (rhs)","t":2019.45,"v":855},
      {"s":"US rig count (rhs)","t":2019.51,"v":845},
      {"s":"US rig count (rhs)","t":2019.60,"v":818},
      {"s":"US rig count (rhs)","t":2019.68,"v":788},
      {"s":"US rig count (rhs)","t":2019.76,"v":760},
      {"s":"US rig count (rhs)","t":2019.84,"v":738},
      {"s":"US rig count (rhs)","t":2019.92,"v":720},
      {"s":"US rig count (rhs)","t":2020.02,"v":715},
      {"s":"US rig count (rhs)","t":2020.083,"v":720}
    ]
  },
  "hconcat": [
    {
      "width": 499,
      "height": 523,
      "data": {"name": "left"},
      "layer": [
        {
          "transform": [{"filter": "datum.s != 'US (rhs)'"}],
          "mark": {"type": "line", "strokeWidth": 2},
          "encoding": {
            "x": {"field": "t", "type": "quantitative",
              "scale": {"domain": [2010, 2020], "nice": false, "zero": false},
              "axis": {"values": [2010,2011,2012,2013,2014,2015,2016,2017,2018,2019,2020], "format": "d",
                "labelExpr": "datum.value % 2 == 0 ? datum.label : ''", "grid": true,
                "labelFlush": false, "labelOverlap": false, "labelPadding": 21}},
            "y": {"field": "v", "type": "quantitative",
              "scale": {"domain": [25, 60], "nice": false, "zero": false},
              "axis": {"values": [25,30,35,40,45,50,55,60], "grid": false, "minExtent": 40, "maxExtent": 40}},
            "color": {"field": "s", "type": "nominal",
              "scale": {"domain": ["OPEC (lhs)", "non-OPEC excl. US (lhs)", "US (rhs)"], "range": ["#0072BD", "#D95319", "#EDB120"]},
              "legend": {"orient": "none", "legendX": 13, "legendY": 421}}
          }
        },
        {
          "transform": [{"filter": "datum.s == 'US (rhs)'"}],
          "mark": {"type": "line", "strokeWidth": 2},
          "encoding": {
            "x": {"field": "t", "type": "quantitative",
              "scale": {"domain": [2010, 2020], "nice": false, "zero": false},
              "axis": {"orient": "top", "values": [2010,2011,2012,2013,2014,2015,2016,2017,2018,2019,2020], "labels": false, "grid": false, "minExtent": 0, "maxExtent": 0}},
            "y": {"field": "v", "type": "quantitative",
              "scale": {"domain": [8, 18], "nice": false, "zero": false},
              "axis": {"orient": "right", "values": [8,10,12,14,16,18], "grid": false, "labelPadding": 15, "minExtent": 45, "maxExtent": 45}},
            "color": {"field": "s", "type": "nominal",
              "scale": {"domain": ["OPEC (lhs)", "non-OPEC excl. US (lhs)", "US (rhs)"], "range": ["#0072BD", "#D95319", "#EDB120"]}}
          }
        }
      ],
      "resolve": {"scale": {"y": "independent"}, "axis": {"x": "independent"}}
    },
    {
      "width": 472.6,
      "height": 523,
      "data": {"name": "right"},
      "layer": [
        {
          "transform": [{"filter": "datum.s == 'Brent oil price (lhs)'"}],
          "mark": {"type": "line", "strokeWidth": 2},
          "encoding": {
            "x": {"field": "t", "type": "quantitative",
              "scale": {"domain": [2010, 2020.083], "nice": false, "zero": false},
              "axis": {"values": [2010,2011,2012,2013,2014,2015,2016,2017,2018,2019,2020], "format": "d",
                "labelExpr": "datum.value % 2 == 0 ? datum.label : ''", "grid": true,
                "labelFlush": false, "labelOverlap": false, "labelPadding": 21}},
            "y": {"field": "v", "type": "quantitative",
              "scale": {"domain": [20, 140], "nice": false, "zero": false},
              "axis": {"values": [20,40,60,80,100,120,140], "grid": false, "minExtent": 55, "maxExtent": 55}},
            "color": {"field": "s", "type": "nominal",
              "scale": {"domain": ["Brent oil price (lhs)", "US rig count (rhs)"], "range": ["#0072BD", "#D95319"]},
              "legend": {"orient": "none", "legendX": 13, "legendY": 450}}
          }
        },
        {
          "transform": [{"filter": "datum.s == 'US rig count (rhs)'"}],
          "mark": {"type": "line", "strokeWidth": 2},
          "encoding": {
            "x": {"field": "t", "type": "quantitative",
              "scale": {"domain": [2010, 2020.083], "nice": false, "zero": false},
              "axis": {"orient": "top", "values": [2010,2011,2012,2013,2014,2015,2016,2017,2018,2019,2020], "labels": false, "grid": false, "minExtent": 0, "maxExtent": 0}},
            "y": {"field": "v", "type": "quantitative",
              "scale": {"domain": [200, 1600], "nice": false, "zero": false},
              "axis": {"orient": "right", "values": [200,400,600,800,1000,1200,1400,1600], "format": "d", "grid": false, "labelPadding": 16, "minExtent": 60, "maxExtent": 60}},
            "color": {"field": "s", "type": "nominal",
              "scale": {"domain": ["Brent oil price (lhs)", "US rig count (rhs)"], "range": ["#0072BD", "#D95319"]}}
          }
        }
      ],
      "resolve": {"scale": {"y": "independent"}, "axis": {"x": "independent"}}
    }
  ],
  "resolve": {"scale": {"color": "independent"}}
}
